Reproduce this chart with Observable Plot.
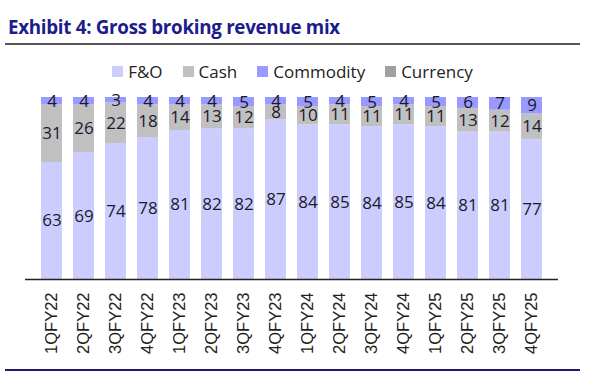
<!DOCTYPE html>
<html>
<head>
<meta charset="utf-8">
<script src="https://cdn.jsdelivr.net/npm/d3@7"></script>
<script src="https://cdn.jsdelivr.net/npm/@observablehq/plot@0.6"></script>
<style>
  html, body { margin: 0; padding: 0; background: #fff; }
  #wrap { position: relative; width: 600px; height: 380px; overflow: hidden; font-family: "Open Sans", sans-serif; }
  #title { position: absolute; left: 8px; top: 14px; font-family: "Open Sans", sans-serif; font-weight: 700; font-size: 18.8px; color: #1c1c8a; letter-spacing: -0.3px; }
  #rule1 { position: absolute; left: 5px; top: 43px; width: 575px; height: 1.5px; background: #555; }
  #legend { position: absolute; left: 0; top: 60px; width: 585px; display: flex; justify-content: center; gap: 20px; font-family: "Open Sans", sans-serif; font-size: 17px; color: #222; }
  #legend span.item { display: flex; align-items: center; gap: 5px; }
  #legend span.sw { display: inline-block; width: 11px; height: 11px; }
  #chart { position: absolute; left: 0; top: 85px; }
  #rule2 { position: absolute; left: 5px; top: 369px; width: 575px; height: 2px; background: #1c1c6a; }
</style>
</head>
<body>
<div id="wrap">
  <div id="title">Exhibit 4: Gross broking revenue mix</div>
  <div id="rule1"></div>
  <div id="legend"></div>
  <div id="chart"></div>
  <div id="rule2"></div>
</div>
<script>
const quarters = ["1QFY22","2QFY22","3QFY22","4QFY22","1QFY23","2QFY23","3QFY23","4QFY23","1QFY24","2QFY24","3QFY24","4QFY24","1QFY25","2QFY25","3QFY25","4QFY25"];
const segments = ["F&O","Cash","Commodity","Currency"];
const fno       = [63,69,74,78,81,82,82,87,84,85,84,85,84,81,81,77];
const cash      = [31,26,22,18,14,13,12,8,10,11,11,11,11,13,12,14];
const commodity = [4,4,3,4,4,4,5,4,5,4,5,4,5,6,7,9];
const currency  = [0,0,0,0,0,0,0,0,0,0,0,0,0,0,0,0];
const colors = ["#ccccff","#c0c0c0","#9999ff","#a0a0a0"];

const series = [fno, cash, commodity, currency];
const data = [];
quarters.forEach((q, i) => {
  segments.forEach((s, j) => data.push({quarter: q, segment: s, value: series[j][i]}));
});

const legend = document.getElementById("legend");
segments.forEach((s, j) => {
  const it = document.createElement("span");
  it.className = "item";
  it.innerHTML = `<span class="sw" style="background:${colors[j]}"></span><span>${s.replace("&","&amp;")}</span>`;
  legend.appendChild(it);
});

const stackOpts = {x: "quarter", y: "value", z: "segment", order: segments, offset: "normalize"};

const chart = Plot.plot({
  width: 600,
  height: 295,
  marginTop: 12,
  marginBottom: 101,
  marginLeft: 25,
  marginRight: 42,
  x: {domain: quarters, padding: 0.35, label: null, tickSize: 0, tickRotate: -90, tickPadding: 13},
  y: {domain: [0, 1], axis: null},
  color: {domain: segments, range: colors},
  style: {fontFamily: "Liberation Sans, Arial, sans-serif", fontSize: "16.5px", color: "#222", background: "white"},
  marks: [
    Plot.barY(data.filter(d => d.value > 0), Plot.stackY({...stackOpts, fill: "segment"})),
    Plot.ruleY([0], {stroke: "#222", strokeWidth: 1.5}),
    Plot.text(data.filter(d => d.value > 0), Plot.stackY({...stackOpts, text: "value", fill: "#1a1a2a", fontSize: 17, fontFamily: "Open Sans, sans-serif"}))
  ]
});
document.getElementById("chart").appendChild(chart);
</script>
</body>
</html>
